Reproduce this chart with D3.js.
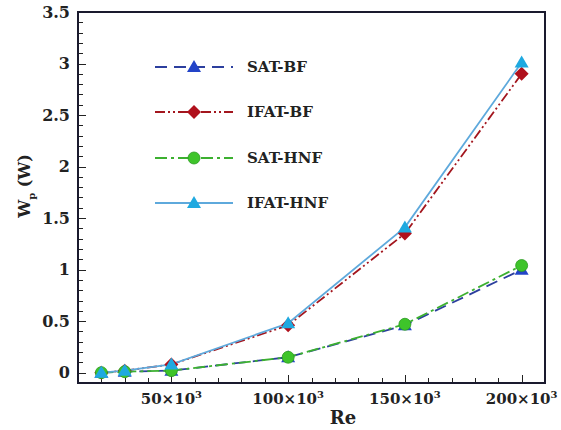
<!DOCTYPE html>
<html lang="en">
<head>
    <meta charset="UTF-8">
    <title>Wp vs Re</title>
    <script src="https://d3js.org/d3.v7.min.js"></script>
    <style>
        body { margin: 0; background: #fff; }
        text { font-family: "DejaVu Serif", "Liberation Serif", serif; font-weight: bold; }
    </style>
</head>
<body>
<svg width="561" height="430"></svg>
<script>

    var reValues = [20000, 30000, 50000, 100000, 150000, 200000];
    var satBF = [0.0, 0.01, 0.02, 0.15, 0.46, 1.0];
    var ifatBF = [0.0, 0.02, 0.08, 0.46, 1.35, 2.9];
    var satHNF = [0.0, 0.01, 0.02, 0.15, 0.47, 1.04];
    var ifatHNF = [0.0, 0.02, 0.08, 0.48, 1.41, 3.01];
    var seriesNames = ["SAT-BF", "IFAT-BF", "SAT-HNF", "IFAT-HNF"];
    var yTickLabels = [0, 0.5, 1, 1.5, 2, 2.5, 3, 3.5];
    var xTickLabels = [50000, 100000, 150000, 200000];

    var series = [
        {name: seriesNames[0], values: satBF, line: "#2c3f9e", fill: "#2344c8", dash: "12,7", marker: "triangle"},
        {name: seriesNames[1], values: ifatBF, line: "#a3161e", fill: "#b0101c", dash: "10,3,2,3,2,3", marker: "diamond"},
        {name: seriesNames[2], values: satHNF, line: "#3cb030", fill: "#3ec42a", dash: "12,4,3,4", marker: "circle"},
        {name: seriesNames[3], values: ifatHNF, line: "#5ea9dc", fill: "#1fa9e0", dash: null, marker: "triangle"}
    ];

    var svg = d3.select("svg");
    var plotL = 78, plotR = 545, plotT = 12, plotB = 383;

    var x = d3.scaleLinear().domain([10000, 210000]).range([plotL, plotR]);
    var y = d3.scaleLinear().domain([-0.1, 3.5]).range([plotB, plotT]);

    // ticks (inward)
    var g = svg.append("g").attr("stroke", "#222").attr("stroke-width", 1);
    d3.range(0, 3.51, 0.1).forEach(function(v) {
        var major = Math.abs(v * 2 - Math.round(v * 2)) < 1e-6;
        g.append("line")
            .attr("x1", plotL).attr("x2", plotL + (major ? 8 : 5))
            .attr("y1", Math.round(y(v)) + 0.5).attr("y2", Math.round(y(v)) + 0.5);
    });
    d3.range(10000, 210001, 10000).forEach(function(v) {
        var major = v % 50000 === 0;
        g.append("line")
            .attr("x1", Math.round(x(v)) + 0.5).attr("x2", Math.round(x(v)) + 0.5)
            .attr("y1", plotB).attr("y2", plotB - (major ? 8 : 5));
    });

    // frame
    svg.append("rect")
        .attr("x", plotL).attr("y", plotT)
        .attr("width", plotR - plotL).attr("height", plotB - plotT)
        .attr("fill", "none").attr("stroke", "#1a1a2e").attr("stroke-width", 2);

    // tick labels
    svg.selectAll(".ylab").data(yTickLabels).enter().append("text")
        .attr("class", "ylab")
        .attr("x", plotL - 8).attr("y", function(d) { return y(d); })
        .attr("dy", "0.35em").attr("text-anchor", "end")
        .attr("font-size", 16).attr("fill", "#222")
        .text(function(d) { return d; });

    var xl = svg.selectAll(".xlab").data(xTickLabels).enter().append("text")
        .attr("class", "xlab")
        .attr("x", function(d) { return x(d); }).attr("y", 404)
        .attr("text-anchor", "middle")
        .attr("font-size", 15).attr("fill", "#222");
    xl.append("tspan").text(function(d) { return (d / 1000) + "×10"; });
    xl.append("tspan").attr("dy", -6).attr("font-size", 10).text("3");

    // axis titles
    svg.append("text")
        .attr("x", 343).attr("y", 424).attr("text-anchor", "middle")
        .attr("font-size", 18).attr("fill", "#222").text("Re");

    var yt = svg.append("text")
        .attr("transform", "translate(30,186) rotate(-90)")
        .attr("text-anchor", "middle")
        .attr("font-size", 16).attr("fill", "#222");
    yt.append("tspan").text("W");
    yt.append("tspan").attr("font-size", 10).attr("dy", 5).text("p");
    yt.append("tspan").attr("dy", -5).text(" (W)");

    var line = d3.line()
        .x(function(d, i) { return x(reValues[i]); })
        .y(function(d) { return y(d); });

    function drawMarker(sel, s, cx, cy) {
        if (s.marker === "triangle") {
            sel.append("path")
                .attr("d", "M" + cx + "," + (cy - 7) + "L" + (cx + 7) + "," + (cy + 5) + "L" + (cx - 7) + "," + (cy + 5) + "Z")
                .attr("fill", s.fill);
        } else if (s.marker === "diamond") {
            sel.append("path")
                .attr("d", "M" + cx + "," + (cy - 7) + "L" + (cx + 7) + "," + cy + "L" + cx + "," + (cy + 7) + "L" + (cx - 7) + "," + cy + "Z")
                .attr("fill", s.fill);
        } else {
            sel.append("circle").attr("cx", cx).attr("cy", cy).attr("r", 6)
                .attr("fill", s.fill).attr("stroke", "#2a9a20").attr("stroke-width", 0.8);
        }
    }

    var plot = svg.append("g");
    series.forEach(function(s) {
        plot.append("path")
            .datum(s.values)
            .attr("d", line)
            .attr("fill", "none")
            .attr("stroke", s.line)
            .attr("stroke-width", 1.8)
            .attr("stroke-dasharray", s.dash);
    });
    series.forEach(function(s) {
        var mg = plot.append("g");
        s.values.forEach(function(v, i) {
            drawMarker(mg, s, x(reValues[i]), y(v));
        });
    });

    // legend
    var legendY = [67, 112, 158, 203];
    series.forEach(function(s, i) {
        var lg = svg.append("g");
        lg.append("line")
            .attr("x1", 155).attr("x2", 233)
            .attr("y1", legendY[i]).attr("y2", legendY[i])
            .attr("stroke", s.line).attr("stroke-width", 1.8)
            .attr("stroke-dasharray", s.dash);
        drawMarker(lg, s, 194, legendY[i]);
        lg.append("text")
            .attr("x", 247).attr("y", legendY[i]).attr("dy", "0.35em")
            .attr("font-size", 15).attr("fill", "#222")
            .text(s.name);
    });

</script>
</body>
</html>
